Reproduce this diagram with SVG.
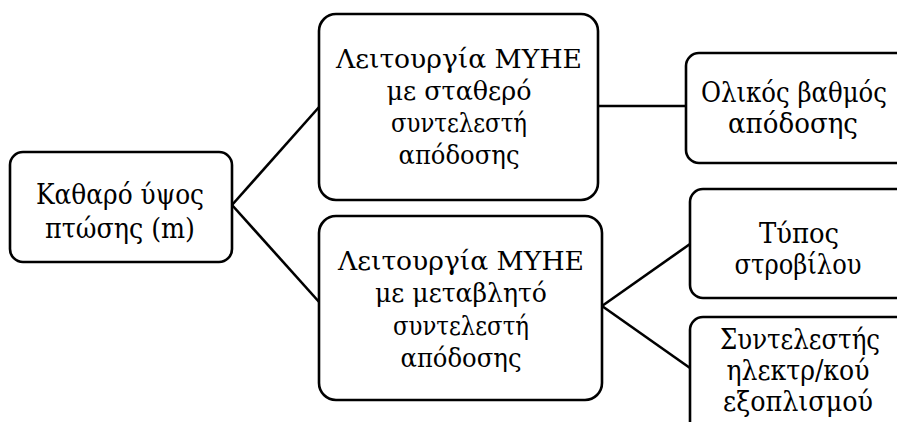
<svg xmlns="http://www.w3.org/2000/svg" width="897" height="422" viewBox="0 0 897 422">
<style>
.box{fill:#fff;stroke:#000;stroke-width:2.6}
.t{font-family:"DejaVu Serif","Liberation Serif",serif;font-size:26px;fill:#000;text-anchor:middle}
.l{font-size:28px}
.r{font-size:27px}
.c{stroke:#000;stroke-width:2.6;fill:none}
</style>
<rect width="897" height="422" fill="#fff"/>
<g id="connectors">
<line class="c" x1="232" y1="205" x2="320" y2="106"/>
<line class="c" x1="232" y1="205" x2="320" y2="303"/>
<line class="c" x1="598" y1="106" x2="686" y2="106"/>
<line class="c" x1="602" y1="306" x2="690" y2="244"/>
<line class="c" x1="602" y1="306" x2="690" y2="368"/>
</g>
<g id="n1">
<rect class="box" x="10" y="152" width="222" height="110" rx="13"/>
<text class="t l" x="120" y="204" textLength="168" lengthAdjust="spacingAndGlyphs">Καθαρό ύψος</text>
<text class="t l" x="120" y="238" textLength="150" lengthAdjust="spacingAndGlyphs">πτώσης (m)</text>
</g>
<g id="n2">
<rect class="box" x="319" y="14" width="279" height="186" rx="17"/>
<text class="t" x="459" y="68" textLength="246" lengthAdjust="spacingAndGlyphs">Λειτουργία ΜΥΗΕ</text>
<text class="t" x="459" y="100" textLength="145" lengthAdjust="spacingAndGlyphs">με σταθερό</text>
<text class="t" x="459" y="132" textLength="136" lengthAdjust="spacingAndGlyphs">συντελεστή</text>
<text class="t" x="459" y="164" textLength="121" lengthAdjust="spacingAndGlyphs">απόδοσης</text>
</g>
<g id="n3">
<rect class="box" x="319" y="216" width="283" height="184" rx="17"/>
<text class="t" x="461" y="270" textLength="246" lengthAdjust="spacingAndGlyphs">Λειτουργία ΜΥΗΕ</text>
<text class="t" x="461" y="302" textLength="172" lengthAdjust="spacingAndGlyphs">με μεταβλητό</text>
<text class="t" x="461" y="335" textLength="136" lengthAdjust="spacingAndGlyphs">συντελεστή</text>
<text class="t" x="461" y="367" textLength="121" lengthAdjust="spacingAndGlyphs">απόδοσης</text>
</g>
<g id="n4">
<rect class="box" x="686" y="53" width="240" height="110" rx="13"/>
<text class="t r" x="794" y="102" textLength="186" lengthAdjust="spacingAndGlyphs">Ολικός βαθμός</text>
<text class="t r" x="793" y="133" textLength="130" lengthAdjust="spacingAndGlyphs">απόδοσης</text>
</g>
<g id="n5">
<rect class="box" x="690" y="189" width="240" height="109" rx="13"/>
<text class="t r" x="799" y="243" textLength="80" lengthAdjust="spacingAndGlyphs">Τύπος</text>
<text class="t r" x="798" y="274" textLength="127" lengthAdjust="spacingAndGlyphs">στροβίλου</text>
</g>
<g id="n6">
<rect class="box" x="690" y="317" width="240" height="140" rx="13"/>
<text class="t r" x="800" y="349" textLength="160" lengthAdjust="spacingAndGlyphs">Συντελεστής</text>
<text class="t r" x="798" y="380" textLength="143" lengthAdjust="spacingAndGlyphs">ηλεκτρ/κού</text>
<text class="t r" x="798" y="411" textLength="150" lengthAdjust="spacingAndGlyphs">εξοπλισμού</text>
</g>
</svg>
